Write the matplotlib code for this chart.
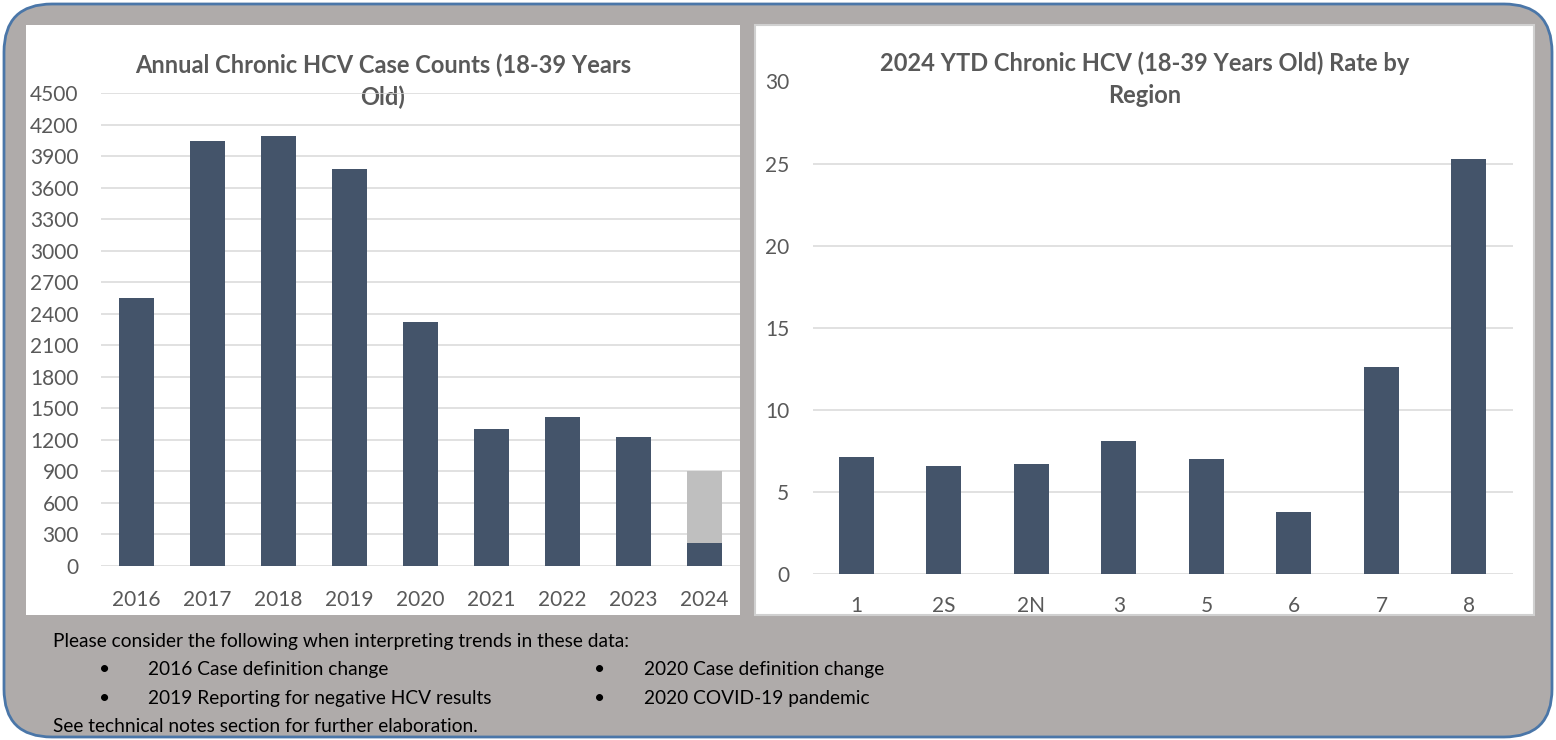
"""Chronic HCV (18-39 years old): annual counts and 2024 YTD rate by region."""

import matplotlib

matplotlib.use("Agg")
import matplotlib.pyplot as plt
from matplotlib.patches import FancyBboxPatch, Rectangle

plt.rcParams["font.family"] = ["Lato", "DejaVu Sans"]

# annual case counts
YEARS = ["2016", "2017", "2018", "2019", "2020", "2021", "2022", "2023", "2024"]
COUNTS = [2550, 4040, 4090, 3780, 2320, 1305, 1420, 1230, 222]
TOTAL_2024 = 905  # grey bar: full-year level shown behind the YTD count
COUNT_TICKS = list(range(0, 4501, 300))

# 2024 YTD rate by region
REGIONS = ["1", "2S", "2N", "3", "5", "6", "7", "8"]
RATES = [7.1, 6.6, 6.7, 8.1, 7.0, 3.8, 12.6, 25.3]
RATE_TICKS = [0, 5, 10, 15, 20, 25, 30]

NOTES_HEAD = "Please consider the following when interpreting trends in these data:"
NOTES_LEFT = ["2016 Case definition change", "2019 Reporting for negative HCV results"]
NOTES_RIGHT = ["2020 Case definition change", "2020 COVID-19 pandemic"]
NOTES_FOOT = "See technical notes section for further elaboration."

BAR = "#44546a"
GREY_BAR = "#bfbfbf"
GRID = "#d9d9d9"
TEXT = "#595959"
BACK = "#afabaa"
EDGE = "#4a76a8"

W, H = 1556, 740
NOTE_SIZE = 13.8


def rect(x0, y0, x1, y1):
    """Pixel box (from top-left) to an axes rect in figure fraction."""
    return [x0 / W, 1 - y1 / H, (x1 - x0) / W, (y1 - y0) / H]


def style_axis(ax, xpad, ypad):
    for side in ax.spines.values():
        side.set_visible(False)
    ax.grid(axis="y", color=GRID, linewidth=1.1)
    ax.set_axisbelow(True)
    ax.tick_params(axis="both", length=0, labelsize=15, labelcolor=TEXT)
    ax.tick_params(axis="x", pad=xpad)
    ax.tick_params(axis="y", pad=ypad)
    ax.set_facecolor("none")


fig = plt.figure(figsize=(W / 100, H / 100), dpi=100)

# background layer in pixel units
bg = fig.add_axes([0, 0, 1, 1], zorder=-1)
bg.set_xlim(0, W)
bg.set_ylim(H, 0)
bg.axis("off")
bg.add_patch(FancyBboxPatch((4, 4), W - 8, H - 7,
                            boxstyle="round,pad=0,rounding_size=48",
                            facecolor=BACK, edgecolor=EDGE, linewidth=2.0))
bg.add_patch(Rectangle((26, 25), 714, 590, facecolor="white", edgecolor="none"))
bg.add_patch(Rectangle((755, 25), 779, 590, facecolor="white",
                       edgecolor="#d0d0d0", linewidth=1.5))

# titles
bg.text(383, 81, "Annual Chronic HCV Case Counts (18-39 Years\nOld)",
        ha="center", va="center", fontsize=17, fontweight="bold", color=TEXT,
        linespacing=1.45)
bg.text(1145, 79, "2024 YTD Chronic HCV (18-39 Years Old) Rate by\nRegion",
        ha="center", va="center", fontsize=17, fontweight="bold", color=TEXT,
        linespacing=1.45)

# notes under the charts
bg.text(53, 641, NOTES_HEAD, ha="left", va="center", fontsize=NOTE_SIZE, color="black")
for i, line in enumerate(NOTES_LEFT):
    y = 670 + i * 28.5
    bg.text(105, y, "\u2022", ha="center", va="center", fontsize=NOTE_SIZE)
    bg.text(148, y, line, ha="left", va="center", fontsize=NOTE_SIZE)
for i, line in enumerate(NOTES_RIGHT):
    y = 670 + i * 28.5
    bg.text(600, y, "\u2022", ha="center", va="center", fontsize=NOTE_SIZE)
    bg.text(644, y, line, ha="left", va="center", fontsize=NOTE_SIZE)
bg.text(53, 726, NOTES_FOOT, ha="left", va="center", fontsize=NOTE_SIZE, color="black")

# left chart
ax1 = fig.add_axes(rect(101, 93, 740, 566))
pos1 = range(len(YEARS))
ax1.bar(pos1, COUNTS, width=0.49, color=BAR, zorder=3)
ax1.bar(len(YEARS) - 1, TOTAL_2024 - COUNTS[-1], bottom=COUNTS[-1], width=0.49,
        color=GREY_BAR, zorder=3)
ax1.set_xlim(-0.5, len(YEARS) - 0.5)
ax1.set_ylim(0, 4500)
ax1.set_yticks(COUNT_TICKS)
ax1.set_xticks(list(pos1))
ax1.set_xticklabels(YEARS)
style_axis(ax1, xpad=17, ypad=16)

# right chart
ax2 = fig.add_axes(rect(812.7, 81.5, 1512.7, 574))
pos2 = range(len(REGIONS))
ax2.bar(pos2, RATES, width=0.40, color=BAR, zorder=3)
ax2.set_xlim(-0.5, len(REGIONS) - 0.5)
ax2.set_ylim(0, 30)
ax2.set_yticks(RATE_TICKS)
ax2.set_xticks(list(pos2))
ax2.set_xticklabels(REGIONS)
style_axis(ax2, xpad=16, ypad=17)

fig.savefig("out.png", dpi=100)
